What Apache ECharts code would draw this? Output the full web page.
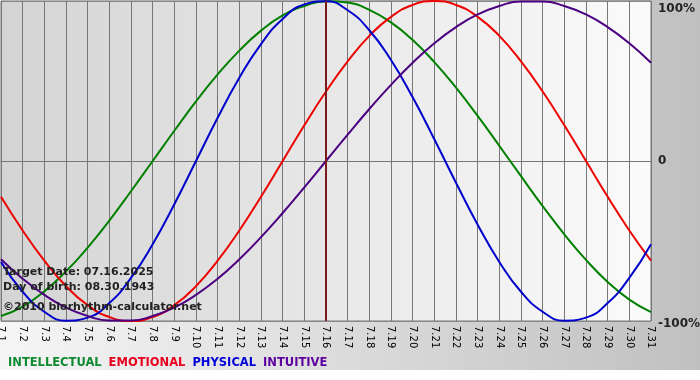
<!DOCTYPE html>
<html>
<head>
<meta charset="utf-8">
<script src="https://cdn.jsdelivr.net/npm/echarts@6/dist/echarts.min.js"></script>
<style>
html,body{margin:0;padding:0;}
#chart{width:700px;height:380px;
background:linear-gradient(to bottom, rgba(255,255,255,0) 370px, #ffffff 370px), linear-gradient(to right, #f6f6f6, #c0c0c0);}
</style>
</head>
<body>
<div id="chart"></div>
<script>
const days = ['7.1','7.2','7.3','7.4','7.5','7.6','7.7','7.8','7.9','7.10','7.11','7.12','7.13','7.14','7.15','7.16','7.17','7.18','7.19','7.20','7.21','7.22','7.23','7.24','7.25','7.26','7.27','7.28','7.29','7.30','7.31'];
const intellectual = [-96.9,-91.0,-81.5,-69.0,-54.1,-37.2,-18.9,0,18.9,37.2,54.1,69.0,81.5,91.0,96.9,99.9,99.0,94.5,86.6,75.6,61.8,45.8,28.2,9.5,-9.5,-28.2,-45.8,-61.8,-75.6,-86.6,-94.5];
const emotional = [-22.3,-43.4,-62.3,-78.2,-90.1,-97.5,-100,-97.5,-90.1,-78.2,-62.3,-43.4,-22.3,0,22.3,43.4,62.3,78.2,90.1,97.5,100,97.5,90.1,78.2,62.3,43.4,22.3,0,-22.3,-43.4,-62.3];
const physical = [-63.1,-81.7,-94.2,-99.8,-97.9,-88.8,-73.1,-52.0,-27.0,0,27.0,52.0,73.1,88.8,97.9,99.8,94.2,81.7,63.1,39.8,13.6,-13.6,-39.8,-63.1,-81.7,-94.2,-99.8,-97.9,-88.8,-73.1,-52.0];
const intuitive = [-61.4,-73.6,-83.7,-91.6,-96.9,-99.7,-99.7,-96.9,-91.6,-83.7,-73.6,-61.4,-47.6,-32.5,-16.5,0,16.5,32.5,47.6,61.4,73.6,83.7,91.6,96.9,99.7,99.7,96.9,91.6,83.7,73.6,61.4];
const targetDay = '7.16';
const yTicks = {'100':'100%','0':'0','-100':'-100%'};
const infoLines = ['Target Date: 07.16.2025','Day of birth: 08.30.1943','\u00a92010 biorhythm-calculator.net'];

const chart = echarts.init(document.getElementById('chart'));
const font = 'DejaVu Sans';
function line(name, data, color){
  return {name, type:'line', data, smooth:true, symbol:'none', animation:false,
    lineStyle:{color, width:2}, itemStyle:{color}};
}
chart.setOption({
  animation:false,
  backgroundColor:'transparent',
  grid:{left:1, right:49, top:1, bottom:59, show:true, borderColor:'#777', borderWidth:1,
    outerBoundsMode:'none', containLabel:false,
    backgroundColor:{type:'linear',x:0,y:0,x2:1,y2:0,colorStops:[{offset:0,color:'#d4d4d4'},{offset:1,color:'#fbfbfb'}]}},
  legend:{left:-2, top:352, icon:'none', itemWidth:0, itemHeight:10, itemGap:2,
    textStyle:{fontFamily:font, fontWeight:'bold', fontSize:11.5, padding:0},
    data:[
      {name:'INTELLECTUAL', textStyle:{color:'#108a30'}},
      {name:'EMOTIONAL', textStyle:{color:'#e8001c'}},
      {name:'PHYSICAL', textStyle:{color:'#0000d8'}},
      {name:'INTUITIVE', textStyle:{color:'#5c00a0'}}
    ], selectedMode:false},
  xAxis:{type:'category', data:days, boundaryGap:false,
    axisLine:{lineStyle:{color:'#777'}},
    axisTick:{show:true, length:4, lineStyle:{color:'#777'}, interval:0},
    axisLabel:{interval:0, rotate:-90, fontFamily:font, fontSize:10, color:'#000', margin:5},
    splitLine:{show:true, interval:0, lineStyle:{color:'#777', width:1}}},
  yAxis:{type:'value', position:'right', min:-100, max:100, interval:100,
    axisLine:{show:false}, axisTick:{show:false},
    splitLine:{show:true, lineStyle:{color:'#888', width:1}},
    axisLabel:{margin:7, fontFamily:font, fontSize:12, fontWeight:'bold', color:'#222',
      formatter:function(v){
        const t = yTicks[String(v)];
        if(v===100) return '{top|'+t+'}';
        if(v===-100) return '{bot|'+t+'}';
        return t;
      },
      rich:{top:{padding:[16,0,0,0], fontFamily:font, fontSize:12, fontWeight:'bold', color:'#222'},
            bot:{padding:[6,0,0,0], fontFamily:font, fontSize:12, fontWeight:'bold', color:'#222'}}}},
  graphic:infoLines.map((t,i)=>({type:'text', left:3, top:[267,282,302][i], z:100,
    style:{text:t, fontFamily:font, fontSize:11, fontWeight:'bold', fill:'#222'}})),
  series:[
    {type:'line', data:[], silent:true,
      markLine:{symbol:'none', silent:true, label:{show:false}, animation:false,
        lineStyle:{color:'#7a1a1a', width:2, type:'solid'}, data:[{xAxis:targetDay}]}},
    line('INTELLECTUAL', intellectual, '#008000'),
    line('EMOTIONAL', emotional, '#ee0000'),
    line('PHYSICAL', physical, '#0000cc'),
    line('INTUITIVE', intuitive, '#4b0082')
  ]
});
</script>
</body>
</html>
